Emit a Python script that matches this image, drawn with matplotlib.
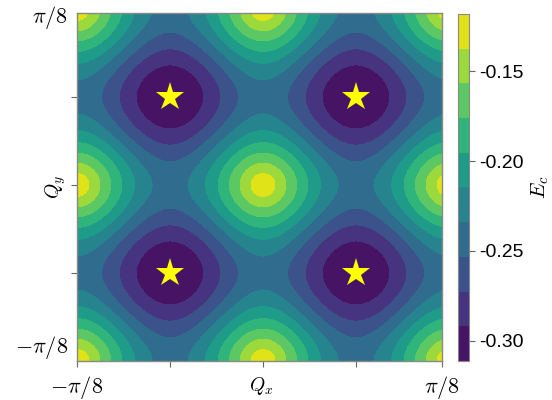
import numpy as np
import matplotlib
matplotlib.use("Agg")
import matplotlib.pyplot as plt
from matplotlib.ticker import FormatStrFormatter

plt.rcParams['mathtext.fontset'] = 'cm'
plt.rcParams['axes.unicode_minus'] = False
plt.rcParams['font.family'] = ['Liberation Sans', 'DejaVu Sans']

# ---- data ----
q_limit = np.pi / 8
# energy-surface coefficients: E = e_peak + e_lin*rho + e_quad*rho^2,
# rho^2 = sin^2(8 Qx) + sin^2(8 Qy)
e_peak = -0.118
e_lin = -0.090
e_quad = -0.033
n_levels = 10
star_qx = [-np.pi / 16, np.pi / 16, -np.pi / 16, np.pi / 16]
star_qy = [np.pi / 16, np.pi / 16, -np.pi / 16, -np.pi / 16]
tick_pos = [-np.pi / 16, 0, np.pi / 16]
x_end_labels = [r'$-\pi/8$', r'$\pi/8$']
y_end_labels = [r'$-\pi/8$', r'$\pi/8$']
cbar_ticks = [-0.30, -0.25, -0.20, -0.15]

# visible window (upper/right edge of the sampled map is slightly short of pi/8)
x_view = (-q_limit, 0.962 * q_limit)
y_view = (-q_limit, 0.977 * q_limit)

qx = np.linspace(-q_limit, q_limit, 401)
qy = np.linspace(-q_limit, q_limit, 401)
QX, QY = np.meshgrid(qx, qy)
rho2 = np.sin(8 * QX) ** 2 + np.sin(8 * QY) ** 2
Z = e_peak + e_lin * np.sqrt(rho2) + e_quad * rho2
levels = np.linspace(Z.min(), Z.max(), n_levels + 1)

fig = plt.figure(figsize=(5.52, 4.0), dpi=100)
ax = fig.add_axes([77 / 552, 39 / 400, 365 / 552, 348 / 400])
cax = fig.add_axes([458 / 552, 39 / 400, 11 / 552, 347 / 400])

cs = ax.contourf(QX, QY, Z, levels=levels, cmap='viridis')
ax.plot(star_qx, star_qy, linestyle='none', marker='*', markersize=21,
        color='#ffff00', markeredgewidth=0)

ax.set_xlim(*x_view)
ax.set_ylim(*y_view)
ax.set_xticks([x_view[0]] + tick_pos + [x_view[1]])
ax.set_xticklabels([x_end_labels[0], '', '', '', x_end_labels[1]], fontsize=16)
ax.set_yticks(tick_pos)
ax.set_yticklabels(['', '', ''])
ax.tick_params(axis='both', length=4, width=0.8, color='#666666')
ax.tick_params(axis='x', pad=5.5)
for s in ax.spines.values():
    s.set_color('#888888')
    s.set_linewidth(1.0)

# y end labels
ax.annotate(y_end_labels[1], xy=(0, 1), xycoords='axes fraction',
            xytext=(-6.5, -7.2), textcoords='offset points',
            ha='right', va='baseline', fontsize=16)
ax.annotate(y_end_labels[0], xy=(0, 0), xycoords='axes fraction',
            xytext=(-6.5, 5.8), textcoords='offset points',
            ha='right', va='baseline', fontsize=16)

ax.set_xlabel(r'$Q_x$', fontsize=14)
ax.xaxis.set_label_coords(0.505, -0.04)
ax.set_ylabel(r'$Q_y$', fontsize=14)
ax.yaxis.set_label_coords(-0.025, 0.5)

cb = fig.colorbar(cs, cax=cax)
cb.set_ticks(cbar_ticks)
cb.ax.yaxis.set_major_formatter(FormatStrFormatter('%.2f'))
cb.ax.tick_params(labelsize=14, length=4, width=0.8, color='#666666')
cb.outline.set_edgecolor('#888888')
cb.set_label(r'$E_c$', fontsize=15, labelpad=4)

fig.savefig('out.png', dpi=100)
